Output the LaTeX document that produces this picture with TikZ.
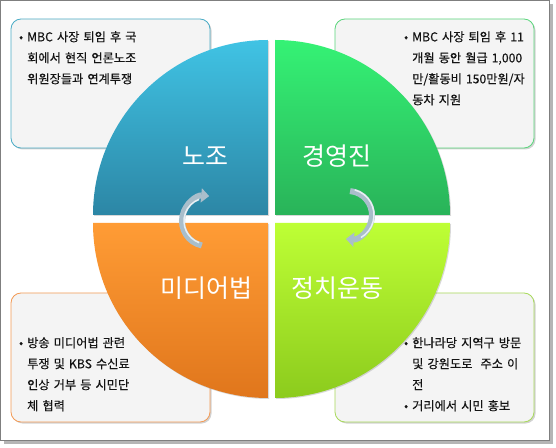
\documentclass[tikz,border=0pt]{standalone}
\usepackage{fontspec}
\setmainfont{Noto Sans CJK KR}
\newfontfamily\notefont[FakeBold=0.35]{Noto Sans CJK KR}
\usepackage{xcolor}
\usepackage{tikz}
\usetikzlibrary{arrows.meta,shadows}
\definecolor{FrameGray}{HTML}{7F7F7F}
\definecolor{ShadowGray}{HTML}{B5B5B5}
\definecolor{NoteFill}{HTML}{F4F4F4}
\definecolor{NoteText}{HTML}{141414}
\definecolor{UnionTop}{HTML}{40C3E4}
\definecolor{UnionBottom}{HTML}{2C86A5}
\definecolor{UnionLine}{HTML}{4BACC6}
\definecolor{BoardTop}{HTML}{35F275}
\definecolor{BoardBottom}{HTML}{29B359}
\definecolor{BoardLine}{HTML}{5AD67C}
\definecolor{MediaTop}{HTML}{FF9C35}
\definecolor{MediaBottom}{HTML}{E0761C}
\definecolor{MediaLine}{HTML}{F39A55}
\definecolor{PoliticsTop}{HTML}{BEFF35}
\definecolor{PoliticsBottom}{HTML}{8CCB1D}
\definecolor{PoliticsLine}{HTML}{A8DA5A}
\definecolor{ArrowSilver}{HTML}{A9BECB}
\definecolor{ArrowShine}{HTML}{E8F0F4}
\newcommand{\notebul}{\leavevmode\llap{\textbullet\hspace{4pt}}}

\begin{document}
\begin{tikzpicture}[x=1pt, y=1pt,
    notebox/.style={fill=NoteFill, line width=0.8pt, rounded corners=10pt,
      drop shadow={opacity=0.35, shadow xshift=1.5pt, shadow yshift=-1.5pt}},
    notetext/.style={anchor=north west, inner sep=0pt, text width=180pt, align=left,
      font=\notefont\fontsize{12.2}{21}\selectfont, text=NoteText},
    quadlabel/.style={text=white, font=\fontsize{25}{28}\selectfont},
    quadshade/.style={drop shadow={opacity=0.3, shadow xshift=1pt, shadow yshift=-1pt}},
    cyclearrow/.style={line width=6pt, draw=ArrowSilver, -{Triangle[length=8pt, width=14pt]}}]
    \useasboundingbox (0,0) rectangle (556,447);

    % Frame
    \fill[ShadowGray] (4,3) rectangle (553,443);
    \draw[fill=white, draw=FrameGray, line width=1pt] (0.5,7) rectangle (549,446.5);

    % Note boxes
    \draw[notebox, draw=UnionLine] (11,299) rectangle (210,428);
    \draw[notebox, draw=BoardLine] (335,299) rectangle (534,428);
    \draw[notebox, draw=MediaLine] (11,25) rectangle (210,154);
    \draw[notebox, draw=PoliticsLine] (335,25) rectangle (534,154);

    \node[notetext] (unionnote) at (27,416) {\notebul MBC 사장 퇴임 후 국\\회에서 현직 언론노조\\위원장들과 연계투쟁};
    \node[notetext] (boardnote) at (412,416) {\notebul MBC 사장 퇴임 후 11\\개월 동안 월급 1,000\\만/활동비 150만원/자\\동차 지원};
    \node[notetext] (medianote) at (27,110) {\notebul 방송 미디어법 관련\\투쟁 및 KBS 수신료\\인상 거부 등 시민단\\체 협력};
    \node[notetext] (politicsnote) at (412,110) {\notebul 한나라당 지역구 방문\\및 강원도로\ \ 주소 이\\전\\\notebul 거리에서 시민 홍보};

    % Quarter discs
    \path[quadshade, top color=UnionTop, bottom color=UnionBottom]
      (268,232) -- ++(-175,0) arc[start angle=180, end angle=90, radius=175] -- cycle;
    \path[quadshade, top color=BoardTop, bottom color=BoardBottom]
      (275,232) -- ++(0,175) arc[start angle=90, end angle=0, radius=175] -- cycle;
    \path[quadshade, top color=MediaTop, bottom color=MediaBottom]
      (268,224) -- ++(-175,0) arc[start angle=180, end angle=270, radius=175] -- cycle;
    \path[quadshade, top color=PoliticsTop, bottom color=PoliticsBottom]
      (275,224) -- ++(175,0) arc[start angle=0, end angle=-90, radius=175] -- cycle;

    \node[quadlabel] (union) at (205,291) {노조};
    \node[quadlabel] (board) at (337,291) {경영진};
    \node[quadlabel] (media) at (206,159) {미디어법};
    \node[quadlabel] (politics) at (337,159) {정치운동};

    % Cycle arrows
    \draw[cyclearrow] (207,226) ++(258:25) arc[start angle=258, end angle=85, radius=25];
    \draw[ArrowShine, line width=1.5pt] (207,226) ++(250:23) arc[start angle=250, end angle=110, radius=23];
    \draw[cyclearrow] (348,232) ++(85:24) arc[start angle=85, end angle=-95, radius=24];
    \draw[ArrowShine, line width=1.5pt] (348,232) ++(75:26) arc[start angle=75, end angle=-60, radius=26];
\end{tikzpicture}
\end{document}
